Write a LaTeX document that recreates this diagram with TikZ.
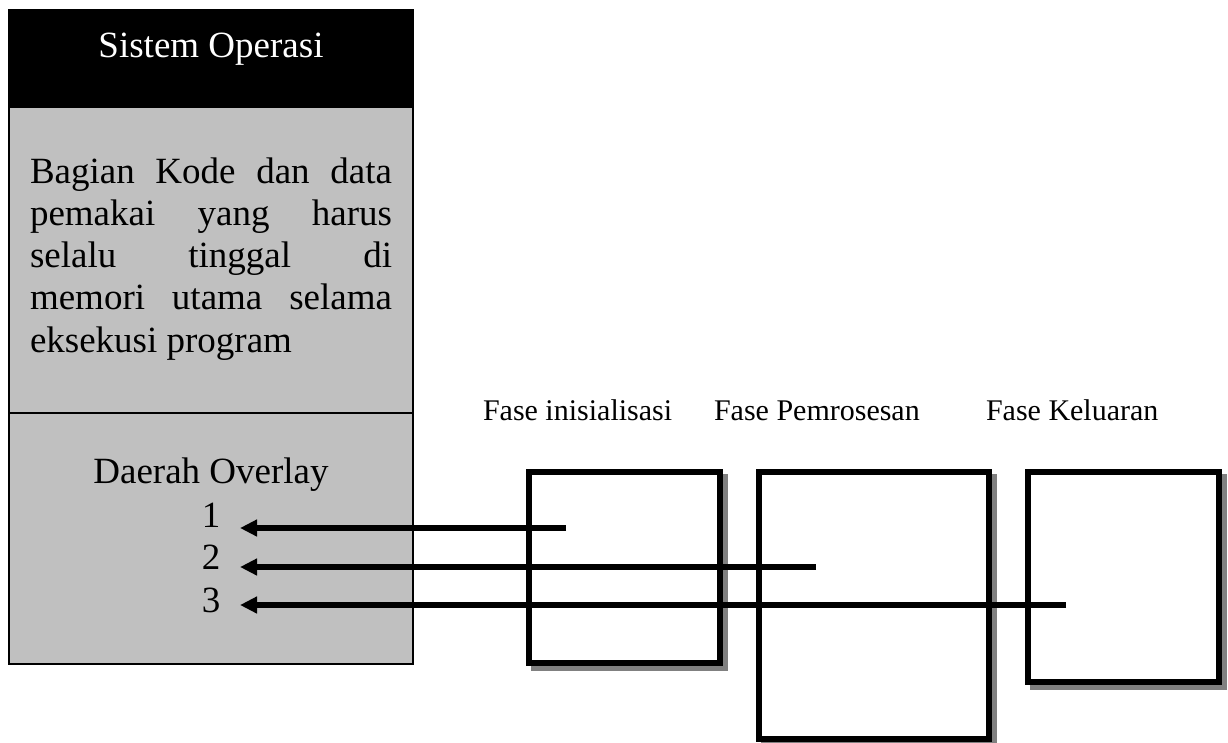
\documentclass[tikz,border=0pt]{standalone}
\usepackage{fontspec}
\setmainfont{Liberation Serif}
\usetikzlibrary{arrows.meta,backgrounds}
\definecolor{panelgray}{HTML}{C0C0C0}
\definecolor{shadowgray}{HTML}{808080}
\begin{document}
\begin{tikzpicture}[x=1pt,y=-1pt,
  bigfont/.style={font=\fontsize{37}{42.3}\selectfont},
  labelfont/.style={font=\fontsize{30}{36}\selectfont},
  plain/.style={inner sep=0pt, outer sep=0pt},
  phasebox/.style={draw=black, line width=6pt, fill=white, inner sep=0pt},
  backarrow/.style={line width=5.3pt, -{Triangle[length=17pt,width=16pt]}},
]
\useasboundingbox (0,0) rectangle (1228,742);

% memory layout panel
\fill[panelgray] (9,10) rectangle (413,664);
\fill[black] (9,10) rectangle (413,108);
\draw[line width=1.5pt] (9,10) rectangle (413,664);
\draw[line width=1.5pt] (9,413) -- (413,413);

\node[plain, bigfont, text=white, anchor=base] (title) at (211,57) {Sistem Operasi};

\node[plain, bigfont, anchor=base west] (res1) at (30,183)    {\makebox[362pt][s]{Bagian Kode dan data}};
\node[plain, bigfont, anchor=base west] (res2) at (30,225.25) {\makebox[362pt][s]{pemakai yang harus}};
\node[plain, bigfont, anchor=base west] (res3) at (30,267.5)  {\makebox[362pt][s]{selalu tinggal di}};
\node[plain, bigfont, anchor=base west] (res4) at (30,309.75) {\makebox[362pt][s]{memori utama selama}};
\node[plain, bigfont, anchor=base west] (res5) at (30,352)    {eksekusi program};

\node[plain, bigfont, anchor=base] (overlay) at (211,483) {Daerah Overlay};
\node[plain, bigfont, anchor=base] (n1) at (211,527) {1};
\node[plain, bigfont, anchor=base] (n2) at (211,569) {2};
\node[plain, bigfont, anchor=base] (n3) at (211,612) {3};

% phase labels
\node[plain, labelfont, anchor=base west] (lab1) at (483,420) {Fase inisialisasi};
\node[plain, labelfont, anchor=base west] (lab2) at (714,420) {Fase Pemrosesan};
\node[plain, labelfont, anchor=base west] (lab3) at (986,420) {Fase Keluaran};

% phase boxes
\node[phasebox, minimum width=191pt, minimum height=191pt] (init) at (624.5,567.5) {};
\node[phasebox, minimum width=230pt, minimum height=267pt] (proc) at (874,605.5) {};
\node[phasebox, minimum width=191pt, minimum height=210pt] (outp) at (1123.5,577) {};

\begin{pgfonlayer}{background}
  \foreach \b in {init,proc,outp}{
    \fill[shadowgray] ([xshift=5pt,yshift=-5pt]\b.north west) rectangle ([xshift=5pt,yshift=-5pt]\b.south east);
  }
\end{pgfonlayer}

% overlay loading arrows
\coordinate (t1) at (240,528);
\coordinate (t2) at (240,567);
\coordinate (t3) at (240,605);
\coordinate (s1) at (566,528);
\coordinate (s2) at (816,567);
\coordinate (s3) at (1066,605);
\draw[backarrow] (s1) -- (t1);
\draw[backarrow] (s2) -- (t2);
\draw[backarrow] (s3) -- (t3);
\end{tikzpicture}
\end{document}
